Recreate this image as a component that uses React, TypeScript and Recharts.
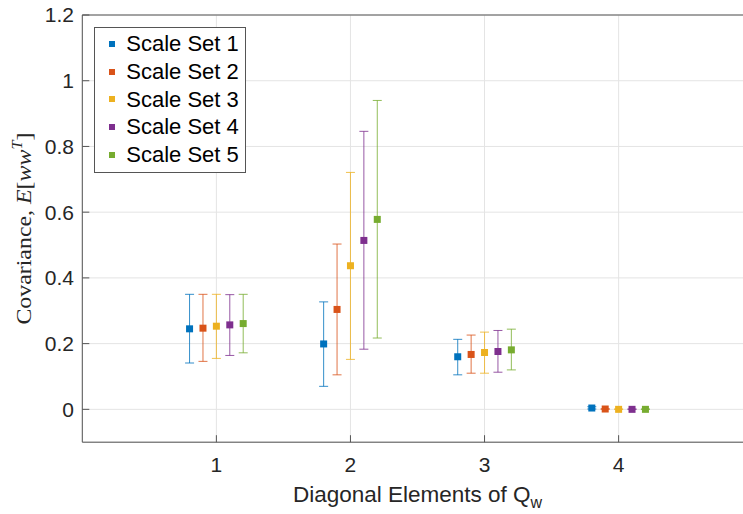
import React from 'react';
import { ScatterChart, Scatter, XAxis, YAxis, CartesianGrid, ErrorBar, Legend } from 'recharts';

const categories = [1, 2, 3, 4];
const offsets = [-0.2, -0.1, 0, 0.1, 0.2];
const seriesNames = ['Scale Set 1', 'Scale Set 2', 'Scale Set 3', 'Scale Set 4', 'Scale Set 5'];
const colors = ['#0072BD', '#D95319', '#EDB120', '#7E2F8E', '#77AC30'];
const xTicks = [1, 2, 3, 4];
const yTicks = [0, 0.2, 0.4, 0.6, 0.8, 1, 1.2];

const means1 = [0.245, 0.199, 0.160, 0.004];
const lows1 = [0.141, 0.070, 0.105, 0.001];
const highs1 = [0.350, 0.327, 0.213, 0.008];

const means2 = [0.247, 0.304, 0.167, 0.001];
const lows2 = [0.146, 0.105, 0.110, 0.0];
const highs2 = [0.350, 0.503, 0.226, 0.002];

const means3 = [0.253, 0.437, 0.173, 0.0];
const lows3 = [0.155, 0.152, 0.110, 0.0];
const highs3 = [0.350, 0.721, 0.235, 0.001];

const means4 = [0.257, 0.514, 0.176, 0.0];
const lows4 = [0.164, 0.183, 0.113, 0.0];
const highs4 = [0.349, 0.846, 0.240, 0.001];

const means5 = [0.261, 0.578, 0.181, 0.0];
const lows5 = [0.172, 0.217, 0.120, 0.0];
const highs5 = [0.350, 0.940, 0.244, 0.001];

const allMeans = [means1, means2, means3, means4, means5];
const allLows = [lows1, lows2, lows3, lows4, lows5];
const allHighs = [highs1, highs2, highs3, highs4, highs5];

const seriesData = allMeans.map((means, s) =>
  categories.map((c, i) => ({
    x: c + offsets[s],
    y: means[i],
    err: [Math.max(0, means[i] - allLows[s][i]), Math.max(0, allHighs[s][i] - means[i])],
  }))
);

const FONT = '"Liberation Sans", Arial, Helvetica, sans-serif';
const AXIS_COLOR = '#555555';
const TEXT_COLOR = '#262626';

const squareShape = (color: string) => (props: any) => {
  const { cx, cy } = props;
  if (cx == null || cy == null) return <g />;
  return <rect x={cx - 3.5} y={cy - 3.5} width={7} height={7} fill={color} />;
};

const YLabel = (props: any) => {
  const vb = props.viewBox || { x: 0, y: 15, width: 82, height: 427 };
  const cx = 31;
  const cy = vb.y + vb.height / 2;
  return (
    <text
      x={cx}
      y={cy}
      transform={`rotate(-90, ${cx}, ${cy})`}
      textAnchor="middle"
      fontFamily='"Liberation Serif", "DejaVu Serif", serif'
      fontSize={22}
      fill={TEXT_COLOR}
      textLength={192}
      lengthAdjust="spacingAndGlyphs"
    >
      Covariance, <tspan fontStyle="italic">E</tspan>[<tspan fontStyle="italic">ww</tspan>
      <tspan dy={-9} fontSize={15} fontStyle="italic">T</tspan>
      <tspan dy={9}>]</tspan>
    </text>
  );
};

const XLabel = (props: any) => {
  const vb = props.viewBox || { x: 82, y: 442, width: 670, height: 40 };
  const cx = vb.x + vb.width / 2;
  return (
    <text x={cx} y={502} textAnchor="middle" fontFamily={FONT} fontSize={22.5} fill={TEXT_COLOR}>
      Diagonal Elements of Q<tspan dy={6} fontSize={16}>w</tspan>
    </text>
  );
};

const renderLegend = () => (
  <div
    style={{
      width: 150,
      height: 142,
      border: '1px solid #555',
      background: '#fff',
      boxSizing: 'content-box',
      paddingTop: 2,
    }}
  >
    {seriesNames.map((name, i) => (
      <div
        key={name}
        style={{
          position: 'relative',
          height: 27.7,
          lineHeight: '27.7px',
          fontFamily: FONT,
          fontSize: 22,
          color: '#000',
          whiteSpace: 'nowrap',
        }}
      >
        <span
          style={{
            position: 'absolute',
            left: 13.7,
            top: 10.8,
            width: 6,
            height: 6,
            background: colors[i],
          }}
        />
        <span style={{ position: 'absolute', left: 31, top: 0 }}>{name}</span>
      </div>
    ))}
  </div>
);

export default function App() {
  return (
    <div style={{ position: 'fixed', left: 0, top: 0, width: 743, height: 514, overflow: 'hidden', background: '#fff' }}>
      <ScatterChart
        width={770}
        height={514}
        margin={{ top: 14, right: 17.3, bottom: 31.8, left: 0 }}
      >
        <CartesianGrid stroke="#e4e4e4" strokeWidth={1} />
        <XAxis
          dataKey="x"
          type="number"
          domain={[0, 5]}
          ticks={xTicks}
          allowDataOverflow
          height={40}
          tickSize={-7}
          tickMargin={21.5}
          stroke={AXIS_COLOR}
          tick={{ fill: TEXT_COLOR, fontSize: 21, fontFamily: FONT }}
          label={{ content: XLabel }}
        />
        <XAxis
          xAxisId="top"
          orientation="top"
          type="number"
          domain={[0, 5]}
          ticks={xTicks}
          allowDataOverflow
          height={1}
          tickSize={-7}
          tick={false}
          stroke={AXIS_COLOR}
        />
        <YAxis
          dataKey="y"
          type="number"
          domain={[-0.1, 1.2]}
          ticks={yTicks}
          allowDataOverflow
          width={82.3}
          tickSize={-7}
          tickMargin={15.3}
          stroke={AXIS_COLOR}
          tick={{ fill: TEXT_COLOR, fontSize: 21, fontFamily: FONT }}
          label={{ content: YLabel }}
        />
        <Legend
          layout="vertical"
          align="center"
          verticalAlign="middle"
          content={renderLegend}
          wrapperStyle={{ position: 'absolute', left: 94.3, top: 27.3, width: 'auto', height: 'auto' }}
        />
        {seriesData.map((data, s) => (
          <Scatter
            key={seriesNames[s]}
            name={seriesNames[s]}
            data={data}
            fill={colors[s]}
            shape={squareShape(colors[s])}
            isAnimationActive={false}
          >
            <ErrorBar
              dataKey="err"
              direction="y"
              width={4.5}
              stroke={colors[s]}
              strokeWidth={1}
              strokeOpacity={0.8}
              isAnimationActive={false}
            />
          </Scatter>
        ))}
      </ScatterChart>
    </div>
  );
}
